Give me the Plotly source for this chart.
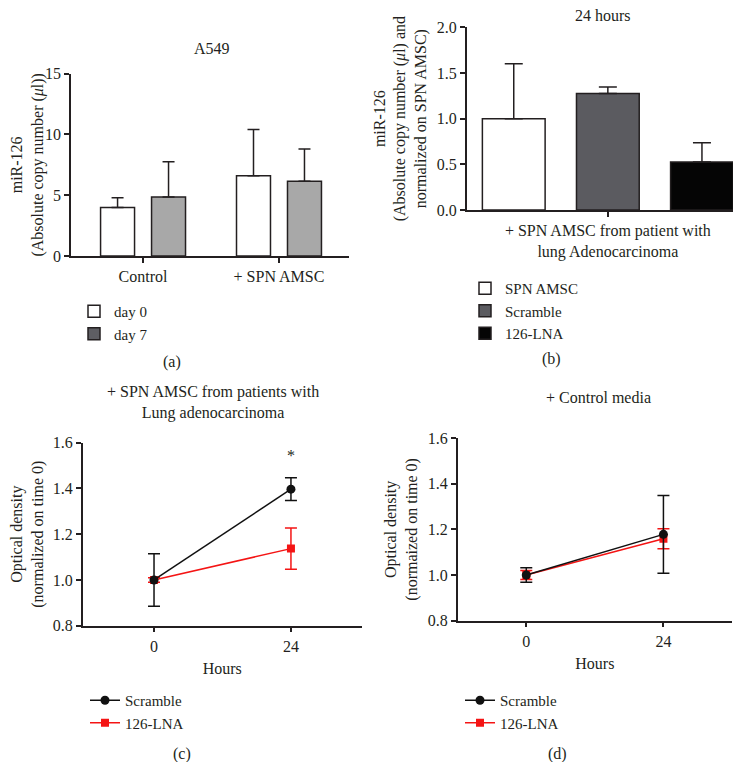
import plotly.graph_objects as go

# ---- (a) A549: miR-126 absolute copy number ----
a_groups = ["Control", "+ SPN AMSC"]
a_day0 = [4.0, 6.6]
a_day0_err = [0.8, 3.8]
a_day7 = [4.85, 6.15]
a_day7_err = [2.9, 2.65]

# ---- (b) 24 hours, normalized on SPN AMSC ----
b_group = ["+ SPN AMSC from patient with<br>lung Adenocarcinoma"]
b_names = ["SPN AMSC", "Scramble", "126-LNA"]
b_values = [1.0, 1.275, 0.525]
b_errors = [0.6, 0.072, 0.21]

# ---- (c), (d) optical density over time ----
hours = [0, 24]
c_scramble = [1.0, 1.397]
c_scramble_err = [0.115, 0.05]
c_lna = [1.0, 1.137]
c_lna_err = [0.01, 0.09]
d_scramble = [1.0, 1.178]
d_scramble_err = [0.032, 0.17]
d_lna = [1.0, 1.159]
d_lna_err = [0.02, 0.044]

FONT = "Liberation Serif, Times New Roman, serif"
INK = "#231f20"
RED = "#f41414"
W, H = 741, 762
PAGE_OFFSET = 8  # the page body adds an 8px margin around the plot div


def px_x(v):
    return (v - PAGE_OFFSET) / W


def px_y(v):
    return 1 - (v - PAGE_OFFSET) / H


fig = go.Figure()

# (a) bars
fig.add_trace(go.Bar(
    x=a_groups, y=a_day0, name="day 0", offset=-0.3125, width=0.25,
    marker=dict(color="white", line=dict(color=INK, width=1.5)),
    error_y=dict(type="data", array=a_day0_err, arrayminus=[0] * len(a_day0),
                 symmetric=False, color=INK, thickness=1.5, width=6),
    xaxis="x", yaxis="y", legend="legend",
))
fig.add_trace(go.Bar(
    x=a_groups, y=a_day7, name="day 7", offset=0.0625, width=0.25,
    marker=dict(color="#a8a8a8", line=dict(color=INK, width=1.5)),
    error_y=dict(type="data", array=a_day7_err, arrayminus=[0] * len(a_day7),
                 symmetric=False, color=INK, thickness=1.5, width=6),
    xaxis="x", yaxis="y", showlegend=False,
))
# legend swatch for day 7 is darker than the bars in the original
fig.add_trace(go.Bar(
    x=a_groups[:1], y=[None], name="day 7",
    marker=dict(color="#5e5e63", line=dict(color=INK, width=1.5)),
    xaxis="x", yaxis="y", legend="legend", hoverinfo="skip",
))

# (b) bars
b_colors = ["white", "#5b5b60", "#050505"]
b_offsets = [-4 / 9, -1 / 9, 2 / 9]
for name, val, err, col, off in zip(b_names, b_values, b_errors, b_colors, b_offsets):
    fig.add_trace(go.Bar(
        x=b_group, y=[val], name=name, offset=off, width=2 / 9,
        marker=dict(color=col, line=dict(color=INK, width=1.5)),
        error_y=dict(type="data", array=[err], arrayminus=[0], symmetric=False,
                     color=INK, thickness=1.5, width=9),
        xaxis="x2", yaxis="y2", legend="legend2",
    ))


def add_lines(xa, ya, leg, scr, scr_err, lna, lna_err):
    fig.add_trace(go.Scatter(
        x=hours, y=lna, name="126-LNA", mode="lines+markers",
        line=dict(color=RED, width=1.5),
        marker=dict(symbol="square", size=8, color=RED),
        error_y=dict(type="data", array=lna_err, color=RED, thickness=1.5, width=6),
        xaxis=xa, yaxis=ya, legend=leg, legendrank=2,
    ))
    fig.add_trace(go.Scatter(
        x=hours, y=scr, name="Scramble", mode="lines+markers",
        line=dict(color="#111111", width=1.5),
        marker=dict(symbol="circle", size=9, color="#111111"),
        error_y=dict(type="data", array=scr_err, color="#111111", thickness=1.5, width=6),
        xaxis=xa, yaxis=ya, legend=leg, legendrank=1,
    ))


add_lines("x3", "y3", "legend3", c_scramble, c_scramble_err, c_lna, c_lna_err)
add_lines("x4", "y4", "legend4", d_scramble, d_scramble_err, d_lna, d_lna_err)

axis_style = dict(
    showline=True, linecolor=INK, linewidth=1.5, ticks="outside", ticklen=5,
    tickwidth=1.5, tickcolor=INK, showgrid=False, zeroline=False,
    tickfont=dict(size=16, color=INK), title_font=dict(size=16, color=INK),
    automargin=False,
)

legend_style = dict(
    font=dict(size=15, color=INK), bgcolor="rgba(0,0,0,0)", borderwidth=0,
    xanchor="left", yanchor="top", tracegroupgap=0, itemclick=False,
)

fig.update_layout(
    width=W, height=H, margin=dict(l=0, r=0, t=0, b=0, autoexpand=False),
    paper_bgcolor="white", plot_bgcolor="white", barmode="overlay",
    font=dict(family=FONT, size=16, color=INK),
    xaxis=dict(axis_style, domain=[px_x(71), px_x(349)], anchor="y",
               type="category", range=[-0.53, 1.515]),
    yaxis=dict(axis_style, domain=[px_y(256), px_y(73.7)], anchor="x",
               range=[0, 15], dtick=5,
               title=dict(text="miR-126<br>(Absolute copy number (<i>μ</i>l))", standoff=16)),
    xaxis2=dict(axis_style, domain=[px_x(466.7), px_x(749)], anchor="y2",
                type="category", range=[-0.5, 0.5]),
    yaxis2=dict(axis_style, domain=[px_y(210), px_y(27.3)], anchor="x2",
                range=[0, 2], dtick=0.5, tickformat=".1f",
                title=dict(text="miR-126<br>(Absolute copy number (<i>μ</i>l) and<br>normalized on SPN AMSC)",
                           standoff=6)),
    xaxis3=dict(axis_style, domain=[px_x(82.7), px_x(361.7)], anchor="y3",
                range=[-12.5, 36.4], tickvals=hours,
                title=dict(text="Hours", standoff=9)),
    yaxis3=dict(axis_style, domain=[px_y(625.7), px_y(442.7)], anchor="x3",
                range=[0.8, 1.6], dtick=0.2, tickformat=".1f",
                title=dict(text="Optical density<br>(normalized on time 0)", standoff=5)),
    xaxis4=dict(axis_style, domain=[px_x(457.7), px_x(732)], anchor="y4",
                range=[-12, 36], tickvals=hours,
                title=dict(text="Hours", standoff=9)),
    yaxis4=dict(axis_style, domain=[px_y(620.7), px_y(438)], anchor="x4",
                range=[0.8, 1.6], dtick=0.2, tickformat=".1f",
                title=dict(text="Optical density<br>(normaized on time 0)", standoff=6)),
    legend=dict(legend_style, x=px_x(74), y=px_y(295)),
    legend2=dict(legend_style, x=px_x(465), y=px_y(272)),
    legend3=dict(legend_style, x=px_x(85), y=px_y(684)),
    legend4=dict(legend_style, x=px_x(460), y=px_y(684)),
    showlegend=True,
)

annotations = [
    ("A549", 212, 48),
    ("24 hours", 603, 15),
    ("+ SPN AMSC from patients with<br>Lung adenocarcinoma", 213, 402),
    ("+ Control media", 598, 397),
    ("(a)", 172, 362),
    ("(b)", 551, 359),
    ("(c)", 182, 754),
    ("(d)", 557, 754),
]
for text, ax, ay in annotations:
    fig.add_annotation(text=text, x=px_x(ax), y=px_y(ay), xref="paper", yref="paper",
                       showarrow=False, xanchor="center", yanchor="middle",
                       font=dict(size=16, color=INK, family=FONT))

# significance marker above Scramble at 24 h
fig.add_annotation(text="*", x=hours[1], y=1.545, xref="x3", yref="y3",
                   showarrow=False, font=dict(size=16, color=INK, family=FONT))

fig.write_html("out.html")
